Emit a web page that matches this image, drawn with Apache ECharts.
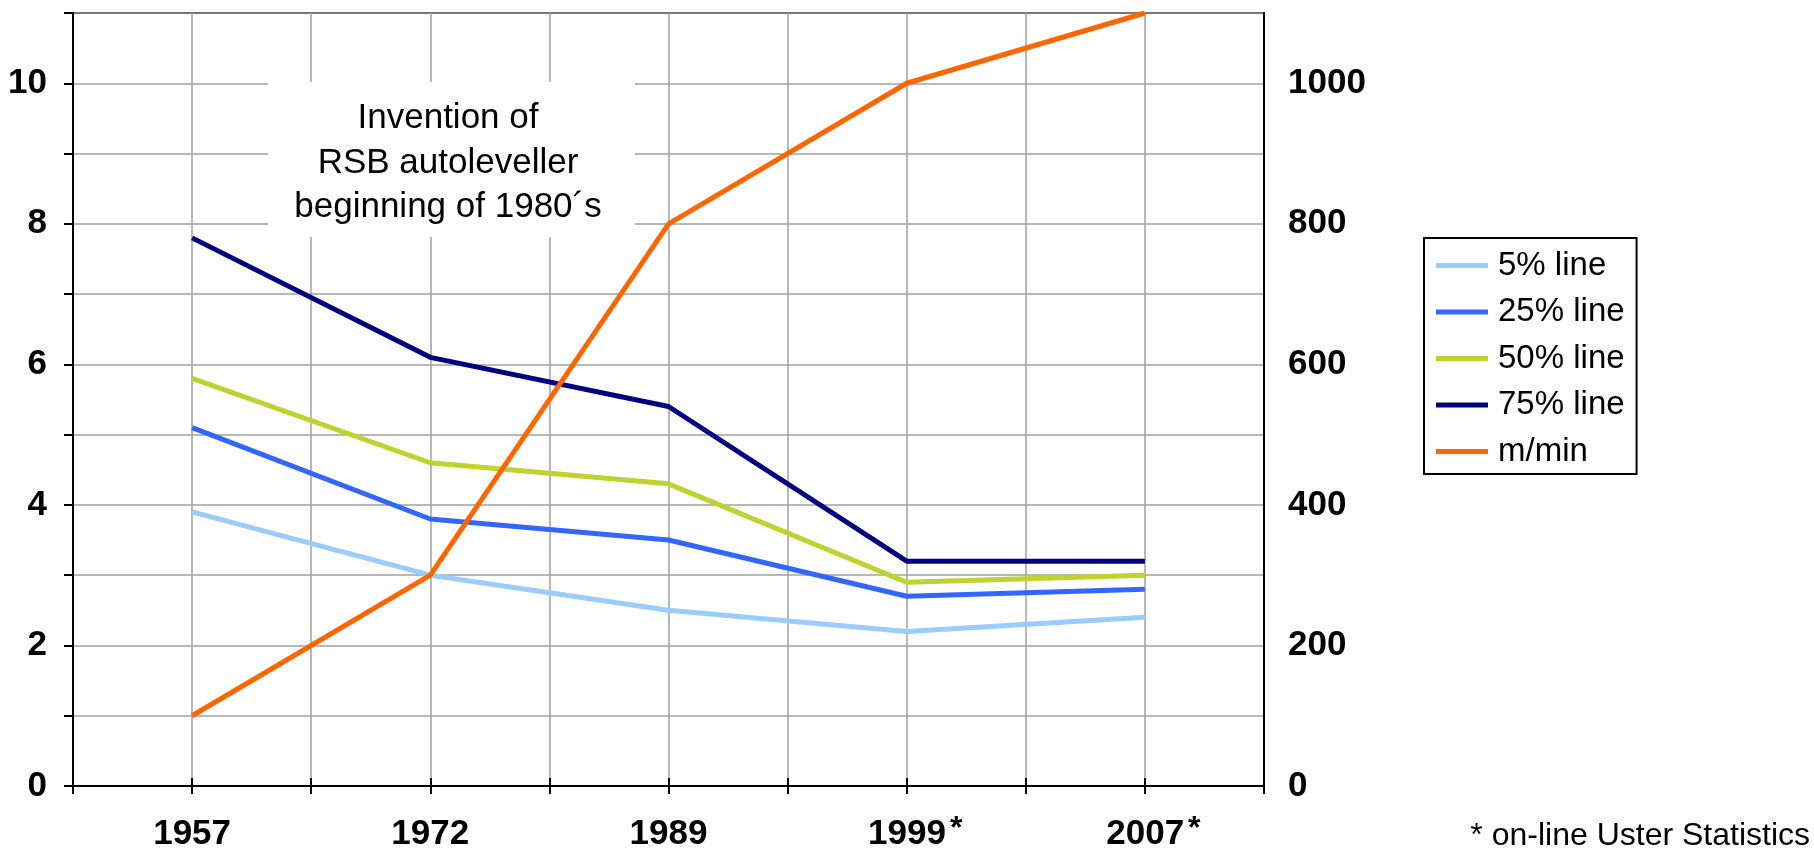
<!DOCTYPE html>
<html>
<head>
<meta charset="utf-8">
<script src="https://cdn.jsdelivr.net/npm/echarts@6/dist/echarts.min.js"></script>
<style>
  html, body { margin: 0; padding: 0; background: #ffffff; }
  #chart { width: 1814px; height: 849px; }
</style>
</head>
<body>
<div id="chart"></div>
<script>
// ---- data ----
const categories = ['1957', '1972', '1989', '1999*', '2007*'];
const line5 = [3.9, 3.0, 2.5, 2.2, 2.4];
const line25 = [5.1, 3.8, 3.5, 2.7, 2.8];
const line50 = [5.8, 4.6, 4.3, 2.9, 3.0];
const line75 = [7.8, 6.1, 5.4, 3.2, 3.2];
const speed = [100, 300, 800, 1000, 1100];
const seriesNames = ['5% line', '25% line', '50% line', '75% line', 'm/min'];
const annotationLines = ['Invention of', 'RSB autoleveller', 'beginning of 1980\u00B4s'];
const footnote = '* on-line Uster Statistics';

const FONT = '"Liberation Sans", Arial, Helvetica, sans-serif';
const colors = ['#99CCFF', '#3366FF', '#BFD22E', '#000080', '#FF6600'];

const chart = echarts.init(document.getElementById('chart'), null, { renderer: 'canvas' });

const halfCats = Array(categories.length * 2).fill('');

function mkLine(name, data, color, yIndex) {
  return {
    name: name,
    type: 'line',
    data: data,
    xAxisIndex: 0,
    yAxisIndex: yIndex,
    symbol: 'none',
    smooth: false,
    lineStyle: { color: color, width: 5 },
    itemStyle: { color: color },
    z: 5
  };
}

const option = {
  backgroundColor: '#ffffff',
  animation: false,
  grid: {
    left: 73, right: 550, top: 13, bottom: 63,
    containLabel: false,
    outerBoundsMode: 'none',
    show: true, borderColor: '#000', borderWidth: 2, backgroundColor: 'transparent'
  },
  legend: {
    orient: 'vertical',
    left: 1424,
    top: 238,
    data: seriesNames,
    icon: 'rect',
    itemWidth: 52,
    itemHeight: 5,
    itemGap: 13.5,
    padding: [11, 12, 6, 12],
    borderColor: '#000',
    borderWidth: 2,
    textStyle: { fontFamily: FONT, fontSize: 33, color: '#000', lineHeight: 33, padding: [0, 0, 0, 5] }
  },
  xAxis: [
    {
      type: 'category',
      data: categories,
      boundaryGap: true,
      position: 'bottom',
      axisLine: { show: true, lineStyle: { color: '#000', width: 2 } },
      axisTick: { show: false },
      splitLine: { show: false },
      axisLabel: {
        margin: 27,
        interval: 0,
        formatter: function (v) {
          if (v.endsWith('*')) {
            return '{sp|}{n|' + v.slice(0, -1) + '}{s|*}';
          }
          return '{n|' + v + '}';
        },
        rich: {
          n: { fontFamily: FONT, fontSize: 35, fontWeight: 'bold', color: '#000', lineHeight: 42 },
          s: { fontFamily: FONT, fontSize: 32, fontWeight: 'bold', color: '#000', lineHeight: 32, padding: [0, 0, 10, 4] },
          sp: { width: 17, lineHeight: 42 }
        }
      }
    },
    {
      type: 'category',
      data: halfCats,
      boundaryGap: true,
      position: 'bottom',
      axisLine: { show: false },
      axisTick: { show: true, interval: 0, length: 8, lineStyle: { color: '#000', width: 2 } },
      splitLine: { show: true, interval: 0, lineStyle: { color: '#a0a0a0', width: 1.5 } },
      axisLabel: { show: false }
    },
    {
      type: 'category',
      data: halfCats,
      boundaryGap: true,
      position: 'bottom',
      axisLine: { show: false },
      axisTick: { show: true, inside: true, interval: 0, length: 8, lineStyle: { color: '#000', width: 2 } },
      splitLine: { show: false },
      axisLabel: { show: false }
    }
  ],
  yAxis: [
    {
      type: 'value',
      position: 'left',
      min: 0, max: 11, interval: 1,
      axisLine: { show: true, lineStyle: { color: '#000', width: 2 } },
      axisTick: { show: true, length: 9, lineStyle: { color: '#000', width: 2 } },
      splitLine: { show: true, lineStyle: { color: '#a0a0a0', width: 1.5 } },
      axisLabel: {
        margin: 26,
        fontFamily: FONT, fontSize: 35, fontWeight: 'bold', color: '#000',
        formatter: function (v) { return (v % 2 === 0 && v <= 10) ? String(v) : ''; }
      }
    },
    {
      type: 'value',
      position: 'right',
      min: 0, max: 1100, interval: 100,
      axisLine: { show: true, lineStyle: { color: '#000', width: 2 } },
      axisTick: { show: false },
      splitLine: { show: false },
      axisLabel: {
        margin: 24,
        fontFamily: FONT, fontSize: 35, fontWeight: 'bold', color: '#000',
        formatter: function (v) { return (v % 200 === 0 && v <= 1000) ? String(v) : ''; }
      }
    }
  ],
  series: [
    mkLine(seriesNames[0], line5, colors[0], 0),
    mkLine(seriesNames[1], line25, colors[1], 0),
    mkLine(seriesNames[2], line50, colors[2], 0),
    mkLine(seriesNames[3], line75, colors[3], 0),
    mkLine(seriesNames[4], speed, colors[4], 1)
  ],
  graphic: [
    {
      type: 'rect',
      z: 3,
      shape: { x: 268, y: 82, width: 367, height: 155 },
      style: { fill: '#ffffff' }
    },
    {
      type: 'text',
      z: 4,
      x: 448,
      y: 163,
      style: {
        text: annotationLines.join('\n'),
        fontFamily: FONT,
        fontSize: 35,
        lineHeight: 44.5,
        fill: '#000',
        align: 'center',
        verticalAlign: 'middle'
      }
    },
    {
      type: 'text',
      z: 4,
      x: 1810,
      y: 836,
      style: {
        text: footnote,
        fontFamily: FONT,
        fontSize: 32,
        fill: '#000',
        align: 'right',
        verticalAlign: 'middle'
      }
    }
  ]
};

chart.setOption(option);
</script>
</body>
</html>
